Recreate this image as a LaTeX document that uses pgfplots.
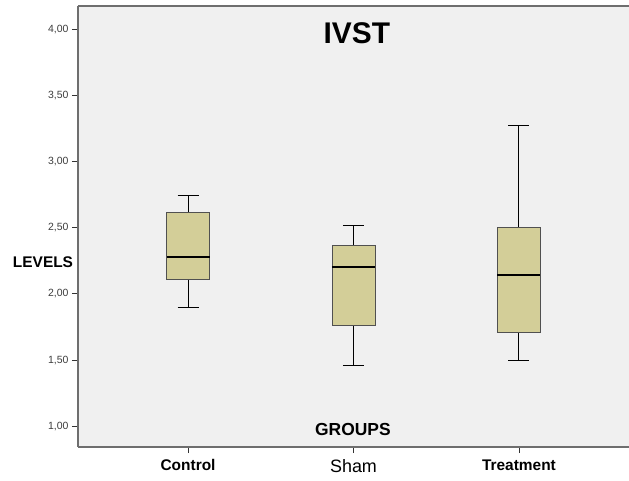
\documentclass[border=0pt]{standalone}
\usepackage{fontspec}
\setmainfont{Liberation Sans}
\usepackage{pgfplots}
\pgfplotsset{compat=1.18}
\usepgfplotslibrary{statistics}
\definecolor{plotbg}{RGB}{240,240,240}
\definecolor{boxfill}{RGB}{211,206,152}
\definecolor{boxedge}{RGB}{80,80,80}
\definecolor{framegray}{RGB}{110,110,110}
\definecolor{ticktext}{RGB}{60,60,60}
\begin{document}
\begin{tikzpicture}
\useasboundingbox (-78bp,-34bp) rectangle (551bp,447bp);
\begin{axis}[
  scale only axis,
  width=551bp, height=441bp,
  xmin=0.335, xmax=3.665,
  ymin=0.843, ymax=4.174,
  axis background/.style={fill=plotbg},
  axis x line*=box,
  axis y line*=left,
  axis line style={draw=framegray, line width=1.3pt},
  xtick={1,2,3},
  xticklabels={Control,{\mdseries\fontsize{18}{20}\selectfont Sham},Treatment},
  xticklabel style={font=\fontsize{15.5}{18}\selectfont\bfseries, text=black, yshift=-3bp},
  xtick pos=bottom,
  ytick={1,1.5,2,2.5,3,3.5,4},
  ytick pos=left,
  tick align=outside,
  major tick length=6bp,
  tick style={draw=black!80, line width=0.8pt},
  yticklabel style={font=\fontsize{10.5}{12}\selectfont, text=ticktext},
  /pgf/number format/.cd, fixed, fixed zerofill, precision=2, use comma, assume math mode=true,
  /pgfplots/.cd,
  clip=false,
  boxplot/draw direction=y,
  boxplot/every box/.style={fill=boxfill, draw=boxedge, line width=0.9pt},
  boxplot/every whisker/.style={draw=black, line width=1pt},
  boxplot/every median/.style={draw=black, line width=2.2pt},
]
\addplot[boxplot prepared={
  lower whisker=1.900, lower quartile=2.110, median=2.280,
  upper quartile=2.613, upper whisker=2.741,
  draw position=1, box extend=0.26, whisker extend=0.127}] coordinates {};
\addplot[boxplot prepared={
  lower whisker=1.455, lower quartile=1.764, median=2.202,
  upper quartile=2.369, upper whisker=2.517,
  draw position=2, box extend=0.26, whisker extend=0.127}] coordinates {};
\addplot[boxplot prepared={
  lower whisker=1.500, lower quartile=1.706, median=2.142,
  upper quartile=2.499, upper whisker=3.270,
  draw position=3, box extend=0.26, whisker extend=0.127}] coordinates {};
\node[font=\fontsize{30}{32}\selectfont\bfseries] at (rel axis cs:0.506,0.939) {IVST};
\node[font=\fontsize{17.5}{19}\selectfont\bfseries] at (rel axis cs:0.499,0.039) {GROUPS};
\node[font=\fontsize{15.5}{17}\selectfont\bfseries, xshift=-35bp] at (rel axis cs:0,0.42) {LEVELS};
\end{axis}
\end{tikzpicture}
\end{document}
